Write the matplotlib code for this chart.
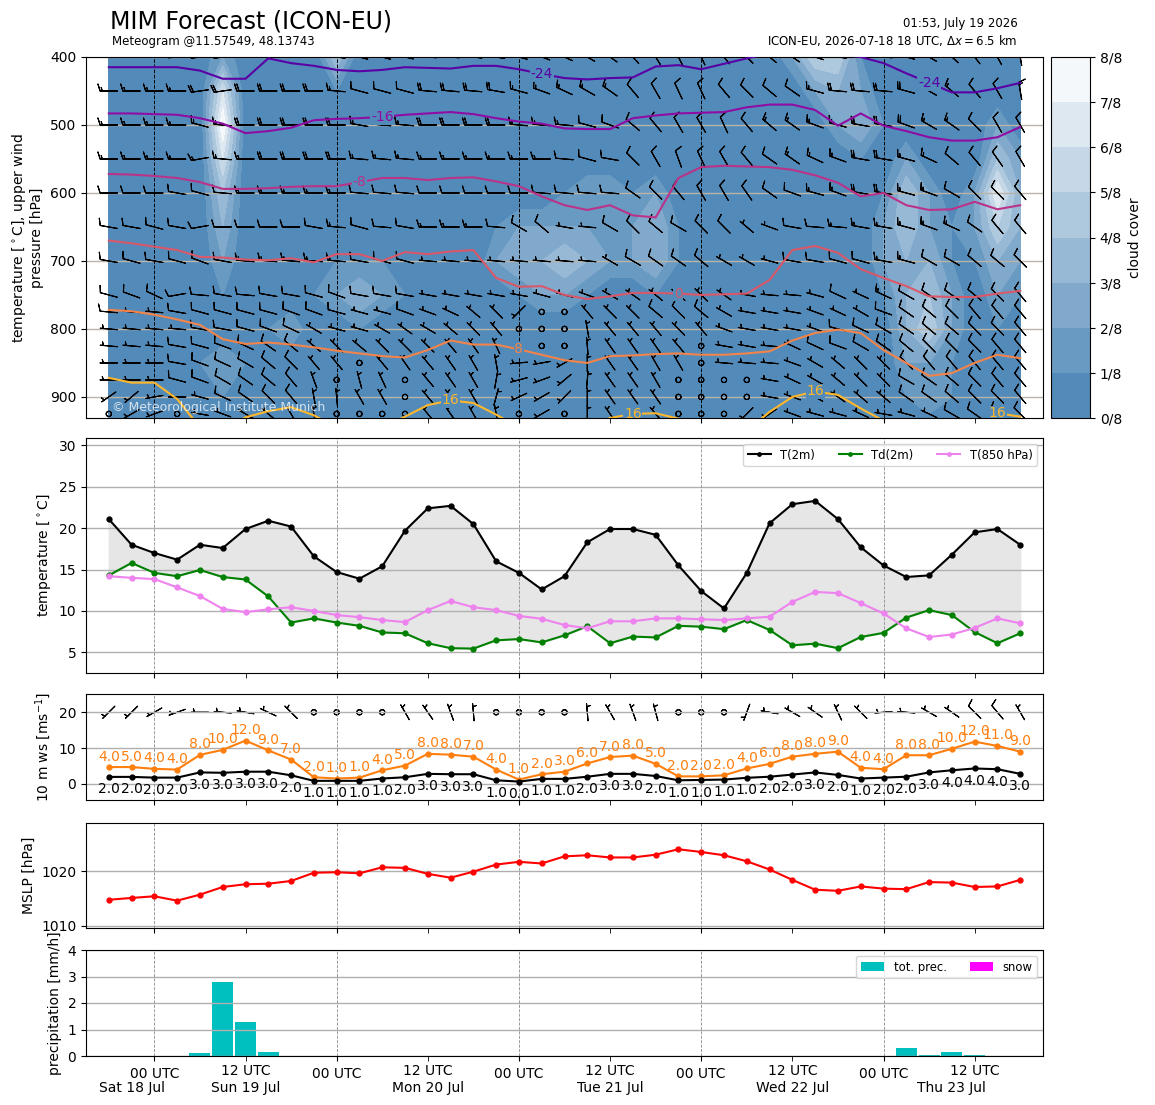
import datetime as dt
import numpy as np
import matplotlib
matplotlib.use('Agg')
import matplotlib.pyplot as plt
import matplotlib.dates as mdates
import matplotlib.transforms as mtransforms
from matplotlib.colors import LinearSegmentedColormap

# 3-hourly forecast steps, ICON-EU run 2026-07-18 18 UTC
t0 = dt.datetime(2026, 7, 18, 18)
times = [t0 + dt.timedelta(hours=3 * i) for i in range(41)]

# ---- surface series ----
t2m = [21.1, 18.0, 17.0, 16.2, 18.0, 17.6, 19.9, 20.9, 20.2, 16.6, 14.7, 13.9, 15.4, 19.7, 22.4,
       22.7, 20.5, 16.0, 14.6, 12.6, 14.2, 18.3, 19.9, 19.9, 19.2, 15.5, 12.4, 10.3, 14.6, 20.6,
       22.9, 23.3, 21.1, 17.7, 15.5, 14.1, 14.3, 16.8, 19.5, 19.9, 18.0]
td2m = [14.3, 15.8, 14.6, 14.2, 14.95, 14.1, 13.8, 11.75, 8.6, 9.1, 8.6, 8.2, 7.4, 7.3, 6.1,
        5.5, 5.45, 6.45, 6.6, 6.2, 7.05, 8.15, 6.1, 6.9, 6.8, 8.2, 8.1, 7.8, 8.9, 7.7,
        5.85, 6.05, 5.5, 6.85, 7.35, 9.2, 10.1, 9.5, 7.45, 6.1, 7.3]
t850 = [14.2, 14.0, 13.85, 12.85, 11.8, 10.25, 9.85, 10.2, 10.45, 10.0, 9.5, 9.25, 8.9, 8.65, 10.1,
        11.2, 10.45, 10.1, 9.4, 9.05, 8.3, 7.9, 8.75, 8.75, 9.1, 9.1, 9.0, 8.9, 9.1, 9.3,
        11.1, 12.3, 12.15, 10.95, 9.7, 7.9, 6.85, 7.15, 7.95, 9.1, 8.5]

ws10 = [1.95, 1.95, 1.75, 1.75, 3.2, 3.1, 3.4, 3.4, 2.4, 0.85, 0.85, 0.85, 1.5, 1.85, 2.8,
        2.7, 2.7, 1.0, 0.65, 1.4, 1.4, 2.0, 2.8, 2.8, 2.2, 1.0, 1.1, 1.2, 1.7, 2.0,
        2.6, 3.2, 2.5, 1.5, 1.75, 2.0, 3.2, 3.8, 4.3, 4.1, 2.8]
ws10_lab = [2, 2, 2, 2, 3, 3, 3, 3, 2, 1, 1, 1, 1, 2, 3, 3, 3, 1, 0, 1, 1, 2, 3, 3, 2, 1, 1, 1, 1, 2,
            2, 3, 2, 1, 2, 2, 3, 4, 4, 4, 3]
gust = [4.7, 4.7, 4.2, 4.0, 8.1, 9.5, 12.1, 9.35, 6.8, 1.85, 1.5, 1.75, 3.8, 5.1, 8.4,
        8.15, 7.6, 4.0, 1.2, 2.7, 3.4, 5.7, 7.5, 7.9, 5.6, 2.1, 2.1, 2.4, 4.3, 5.6,
        7.6, 8.4, 9.0, 4.5, 4.1, 8.0, 8.0, 9.8, 11.8, 10.6, 9.0]
gust_lab = [4, 5, 4, 4, 8, 10, 12, 9, 7, 2, 1, 1, 4, 5, 8, 8, 7, 4, 1, 2, 3, 6, 7, 8, 5, 2, 2, 2, 4, 6,
            8, 8, 9, 4, 4, 8, 8, 10, 12, 11, 9]
dir10 = [225, 225, 240, 250, 270, 275, 280, 295, 315, 0, 0, 0, 0, 330, 325, 340, 355, 0, 0, 0, 0,
         355, 330, 340, 345, 0, 0, 0, 200, 280, 300, 305, 335, 315, 265, 275, 300, 305, 315, 320, 330]
spd10 = [5, 5, 5, 5, 5, 5, 5, 5, 5, 0, 0, 0, 0, 5, 5, 5, 5, 0, 0, 0, 0, 5, 5, 5, 5, 0, 0, 0,
         5, 5, 5, 5, 5, 5, 5, 5, 5, 5, 10, 10, 5]

mslp = [1014.76, 1015.1, 1015.4, 1014.6, 1015.7, 1017.1, 1017.6, 1017.7, 1018.2, 1019.7, 1019.8,
        1019.6, 1020.7, 1020.6, 1019.5, 1018.8, 1019.9, 1021.2, 1021.7, 1021.4, 1022.7, 1022.9,
        1022.5, 1022.5, 1023.0, 1024.0, 1023.5, 1022.9, 1021.8, 1020.3, 1018.4, 1016.6, 1016.4,
        1017.2, 1016.8, 1016.7, 1018.0, 1017.9, 1017.1, 1017.2, 1018.4]

prec = [0, 0, 0, 0, 0.1, 2.8, 1.27, 0.15, 0, 0, 0, 0, 0, 0, 0, 0, 0, 0, 0, 0, 0, 0, 0, 0, 0, 0,
        0, 0, 0, 0, 0, 0, 0, 0, 0, 0.3, 0.03, 0.15, 0.03, 0, 0]
snow = [0, 0, 0, 0, 0, 0, 0, 0, 0, 0, 0, 0, 0, 0, 0, 0, 0, 0, 0, 0, 0, 0, 0, 0, 0, 0,
        0, 0, 0, 0, 0, 0, 0, 0, 0, 0, 0, 0, 0, 0, 0]

# ---- upper air: cloud cover in octas, one string per pressure level ----
cloud_lev = [400, 450, 500, 550, 600, 650, 700, 750, 800, 850, 900, 950]
cloud_rows = [
    "0000020000 4000000000 0000000000 2551000000 0",
    "0000060000 1000000000 0000000000 0232000000 0",
    "0000080000 0000000000 0000000000 0023100002 0",
    "0000060000 0000000000 0000000000 0001020004 2",
    "0000040000 0000000000 1221200000 0000142027 3",
    "0000030000 0000000122 2222310000 0000242125 3",
    "0001020000 1110000233 4322310000 0000233113 2",
    "0000010001 2321001012 2100100000 0000134202 1",
    "0000001120 0100000000 0000100000 0000035201 0",
    "0000121000 0000000000 0000000000 0000022100 0",
    "0000110000 0000000000 0000000000 0000012100 0",
    "0000000000 0000000000 0000000000 0000000000 0",
]

# isotherms: pressure [hPa] of each temperature line at every step (>931 is below ground)
iso_m24 = [415, 415, 415, 415, 420, 432, 432, 402, 409, 413, 419, 421, 419, 415, 416, 417, 413, 413,
           418, 425, 431, 433, 431, 430, 414, 412, 418, 410, 402, 395, 392, 393, 396, 400, 409, 424,
           438, 452, 452, 446, 438]
iso_m16 = [483, 483, 484, 485, 490, 498, 512, 509, 504, 493, 491, 490, 488, 485, 483, 481, 484, 490,
           495, 498, 505, 506, 506, 490, 486, 483, 482, 481, 474, 470, 470, 478, 501, 483, 501, 509,
           518, 523, 523, 518, 503]
iso_m8 = [572, 573, 575, 578, 584, 594, 594, 593, 591, 590, 590, 584, 578, 578, 581, 578, 577, 583,
          590, 605, 618, 625, 618, 633, 636, 578, 562, 560, 561, 562, 566, 574, 585, 605, 600, 618,
          625, 624, 613, 624, 618]
iso_0 = [670, 674, 679, 684, 694, 695, 698, 699, 696, 702, 690, 690, 700, 687, 690, 686, 684, 725,
         738, 737, 750, 756, 752, 747, 747, 748, 750, 749, 748, 728, 684, 678, 688, 712, 725, 737,
         752, 753, 753, 748, 744]
iso_8 = [772, 774, 779, 786, 794, 815, 822, 820, 823, 827, 832, 836, 840, 842, 831, 817, 823, 823,
         830, 838, 846, 850, 840, 839, 837, 836, 838, 838, 836, 833, 817, 806, 801, 806, 831, 850,
         869, 865, 850, 838, 843]
iso_16 = [872, 879, 879, 903, 945, 950, 930, 921, 915, 927, 945, 950, 945, 929, 912, 905, 909, 926,
          945, 950, 950, 945, 931, 925, 924, 932, 945, 950, 950, 922, 900, 892, 897, 917, 935, 950,
          950, 950, 945, 924, 929]
isotherms = [(-24, iso_m24, [19, 36], 0.16), (-16, iso_m16, [12], 0.30), (-8, iso_m8, [11], 0.43),
             (0, iso_0, [25], 0.56), (8, iso_8, [18], 0.70), (16, iso_16, [15, 23, 31, 39], 0.84)]

# upper wind: direction [deg] and speed [kt] per level
wind_lev = [400, 450, 500, 550, 600, 650, 700, 750, 775, 800, 825, 850, 875, 900, 925]
wind_dir = [
    [270, 270, 270, 265, 262, 262, 268, 270, 270, 272, 278, 285, 285, 283, 275, 275, 277, 280, 285, 290, 295, 300, 305, 318, 328, 333, 335, 322, 315, 310, 305, 288, 278, 275, 275, 285, 300, 312, 322, 332, 350],
    [270, 270, 270, 270, 262, 262, 270, 270, 270, 270, 275, 285, 285, 285, 275, 275, 275, 280, 285, 290, 295, 300, 305, 320, 330, 335, 335, 320, 315, 310, 305, 285, 275, 275, 275, 285, 300, 310, 320, 330, 350],
    [270, 270, 270, 270, 285, 275, 270, 270, 270, 270, 270, 280, 275, 275, 270, 270, 270, 270, 275, 275, 275, 285, 290, 310, 320, 330, 330, 335, 320, 310, 305, 290, 285, 280, 280, 290, 300, 305, 315, 330, 330],
    [270, 270, 270, 270, 260, 275, 270, 270, 270, 270, 270, 275, 275, 275, 270, 270, 270, 270, 270, 270, 275, 285, 280, 315, 330, 340, 335, 330, 320, 305, 305, 295, 290, 280, 280, 285, 295, 310, 320, 325, 330],
    [270, 270, 270, 280, 285, 275, 270, 270, 270, 270, 270, 275, 275, 275, 270, 270, 270, 270, 270, 275, 275, 275, 275, 305, 315, 320, 330, 330, 325, 305, 290, 285, 290, 280, 280, 285, 290, 300, 315, 315, 320],
    [280, 280, 285, 280, 260, 270, 270, 270, 270, 280, 275, 285, 275, 280, 270, 270, 270, 275, 300, 310, 280, 275, 300, 315, 310, 300, 315, 315, 310, 290, 280, 275, 275, 280, 280, 285, 290, 295, 305, 320, 320],
    [280, 285, 280, 285, 290, 280, 275, 275, 275, 275, 275, 280, 285, 285, 275, 275, 275, 275, 275, 275, 275, 275, 300, 300, 305, 305, 310, 300, 300, 285, 280, 280, 285, 285, 280, 285, 300, 300, 310, 310, 315],
    [285, 290, 295, 260, 275, 280, 275, 280, 280, 285, 290, 280, 280, 280, 280, 280, 280, 280, 280, 285, 285, 290, 300, 305, 310, 310, 315, 305, 280, 275, 275, 285, 295, 295, 295, 300, 305, 305, 310, 315, 320],
    [275, 275, 275, 280, 285, 285, 285, 285, 290, 290, 285, 285, 285, 290, 290, 295, 310, 315, 225, 0, 0, 320, 315, 315, 310, 315, 310, 300, 280, 280, 280, 290, 295, 300, 290, 305, 310, 315, 320, 320, 320],
    [275, 275, 275, 275, 280, 280, 285, 290, 295, 300, 285, 285, 300, 305, 300, 310, 315, 320, 0, 0, 0, 350, 320, 320, 320, 315, 320, 290, 280, 280, 280, 290, 285, 295, 300, 305, 310, 310, 315, 315, 320],
    [275, 275, 275, 280, 285, 290, 295, 305, 310, 310, 315, 310, 315, 315, 315, 320, 325, 335, 0, 0, 0, 355, 325, 325, 325, 320, 0, 280, 280, 275, 295, 295, 290, 300, 305, 310, 315, 315, 315, 320, 320],
    [270, 270, 270, 280, 290, 295, 300, 310, 315, 320, 320, 0, 320, 325, 320, 325, 330, 350, 265, 260, 240, 0, 325, 325, 330, 330, 0, 275, 275, 275, 290, 300, 310, 315, 315, 315, 320, 320, 320, 320, 320],
    [270, 270, 270, 285, 290, 300, 305, 310, 320, 340, 0, 345, 335, 0, 320, 325, 330, 10, 255, 250, 230, 5, 325, 325, 330, 0, 0, 0, 0, 280, 295, 300, 310, 315, 315, 300, 305, 310, 315, 320, 320],
    [235, 230, 260, 270, 285, 295, 305, 315, 320, 350, 355, 330, 330, 0, 320, 325, 330, 15, 245, 240, 225, 0, 325, 325, 325, 0, 0, 0, 0, 280, 290, 300, 305, 310, 310, 305, 305, 310, 315, 315, 320],
    [0, 240, 250, 0, 280, 290, 300, 310, 330, 350, 0, 0, 0, 0, 320, 325, 330, 350, 0, 240, 0, 0, 325, 320, 320, 0, 0, 0, 225, 235, 290, 285, 285, 295, 280, 285, 295, 300, 305, 310, 315],
]
wind_spd = [
    [15, 15, 15, 15, 20, 20, 20, 20, 20, 20, 15, 15, 15, 15, 20, 20, 20, 20, 15, 15, 15, 15, 15, 10, 10, 10, 10, 10, 10, 10, 15, 15, 20, 20, 20, 20, 20, 15, 15, 10, 15],
    [15, 15, 15, 15, 20, 20, 20, 20, 20, 20, 15, 10, 10, 10, 20, 20, 20, 20, 15, 15, 15, 15, 15, 10, 10, 10, 10, 10, 10, 10, 10, 15, 20, 20, 20, 20, 20, 15, 10, 10, 15],
    [15, 15, 15, 15, 15, 15, 20, 20, 20, 20, 20, 15, 15, 15, 20, 20, 20, 20, 15, 15, 15, 10, 10, 10, 10, 10, 10, 10, 10, 15, 15, 15, 15, 20, 20, 20, 15, 15, 10, 10, 10],
    [15, 15, 15, 15, 15, 15, 15, 20, 20, 20, 20, 15, 15, 15, 15, 15, 15, 15, 15, 15, 10, 10, 10, 10, 10, 10, 10, 10, 10, 10, 15, 15, 15, 20, 20, 15, 15, 10, 10, 10, 10],
    [10, 10, 10, 10, 10, 10, 15, 15, 15, 15, 15, 10, 10, 10, 10, 10, 10, 10, 10, 10, 10, 10, 10, 10, 10, 10, 10, 10, 10, 10, 10, 15, 15, 20, 20, 15, 15, 10, 10, 10, 10],
    [10, 10, 10, 10, 10, 10, 10, 10, 10, 10, 15, 10, 10, 10, 15, 15, 15, 10, 10, 10, 5, 5, 10, 10, 10, 10, 10, 10, 5, 5, 10, 10, 15, 15, 15, 15, 15, 15, 10, 10, 10],
    [10, 10, 10, 10, 10, 10, 15, 15, 15, 15, 15, 10, 10, 10, 5, 5, 5, 5, 5, 5, 5, 5, 5, 10, 10, 10, 10, 5, 5, 5, 10, 10, 10, 10, 15, 15, 10, 10, 10, 10, 10],
    [10, 10, 10, 10, 10, 10, 10, 10, 10, 10, 10, 10, 10, 10, 5, 5, 5, 5, 5, 5, 5, 5, 5, 5, 5, 5, 5, 5, 5, 5, 5, 5, 10, 5, 15, 10, 10, 10, 10, 10, 10],
    [10, 5, 5, 10, 10, 10, 10, 10, 10, 10, 10, 5, 5, 10, 5, 5, 5, 5, 5, 0, 0, 5, 5, 5, 10, 10, 10, 5, 5, 5, 5, 5, 5, 5, 10, 10, 10, 10, 10, 10, 10],
    [5, 5, 5, 5, 10, 10, 10, 10, 10, 5, 5, 5, 5, 5, 5, 5, 5, 5, 0, 0, 0, 5, 5, 5, 5, 5, 5, 5, 5, 5, 5, 5, 10, 10, 10, 10, 10, 10, 10, 10, 10],
    [5, 5, 5, 10, 10, 10, 10, 10, 10, 5, 5, 5, 5, 5, 5, 5, 5, 5, 0, 0, 0, 5, 5, 5, 5, 5, 0, 5, 5, 5, 5, 10, 10, 10, 10, 10, 10, 10, 10, 10, 10],
    [5, 5, 5, 10, 10, 10, 10, 10, 10, 5, 5, 0, 5, 5, 5, 5, 5, 5, 5, 5, 5, 5, 5, 5, 5, 5, 0, 5, 5, 5, 5, 5, 5, 5, 5, 10, 10, 10, 10, 10, 10],
    [5, 5, 5, 10, 10, 10, 10, 10, 10, 5, 0, 5, 5, 0, 5, 5, 5, 5, 5, 5, 5, 5, 5, 5, 5, 0, 0, 0, 0, 5, 5, 5, 5, 5, 5, 10, 10, 10, 10, 10, 10],
    [5, 5, 5, 5, 5, 10, 10, 10, 10, 5, 5, 5, 5, 0, 5, 5, 5, 5, 5, 5, 5, 5, 5, 5, 5, 0, 0, 0, 0, 5, 5, 5, 5, 5, 5, 10, 10, 10, 10, 10, 10],
    [0, 5, 5, 0, 5, 5, 5, 5, 5, 5, 0, 0, 0, 0, 5, 5, 5, 5, 0, 5, 0, 5, 5, 5, 5, 0, 0, 0, 5, 5, 5, 5, 5, 5, 5, 5, 5, 10, 10, 10, 10],
]


def to_uv(dirs, spds):
    d = np.deg2rad(np.asarray(dirs, dtype=float))
    s = np.asarray(spds, dtype=float)
    return -s * np.sin(d), -s * np.cos(d)


x = mdates.date2num(times)
xlim = (mdates.date2num(t0 - dt.timedelta(hours=3)),
        mdates.date2num(times[-1] + dt.timedelta(hours=3)))
midnights = [t for t in times if t.hour == 0]

W, H = 1155, 1105
fig = plt.figure(figsize=(W / 100, H / 100), dpi=100)


def box(l, t, r, b):
    return [l / W, 1 - b / H, (r - l) / W, (b - t) / H]


ax1 = fig.add_axes(box(86, 57, 1043, 418))
cax = fig.add_axes(box(1051, 57, 1090, 418))
ax2 = fig.add_axes(box(86, 438, 1043, 673))
ax3 = fig.add_axes(box(86, 694, 1043, 800))
ax4 = fig.add_axes(box(86, 823, 1043, 928))
ax5 = fig.add_axes(box(86, 950, 1043, 1056))
axes = [ax1, ax2, ax3, ax4, ax5]

# ---- panel 1: cloud cover, isotherms, upper wind ----
cmap = LinearSegmentedColormap.from_list('cc', ['steelblue', 'white'])
cc = np.array([[int(c) for c in row.replace(' ', '')] for row in cloud_rows]) / 8.0
clev = np.arange(9) / 8.0
cf = ax1.contourf(x, cloud_lev, cc, levels=clev, cmap=cmap)
base_col = cmap(1 / 16)

for T, pr, lab_idx, frac in isotherms:
    col = plt.cm.plasma(frac)
    ax1.plot(x, pr, color=col, lw=1.5, zorder=3)
    for k in lab_idx:
        ax1.text(x[k], pr[k], '%d' % T, color=col, fontsize=10, ha='center', va='center',
                 zorder=4, clip_on=True,
                 bbox=dict(boxstyle='square,pad=0.05', fc=base_col, ec='none'))

XX, YY = np.meshgrid(x, wind_lev)
uu, vv = to_uv(wind_dir, wind_spd)
ax1.barbs(XX, YY, uu, vv, length=5, pivot='middle', lw=0.8, color='k', zorder=2)

ax1.set_ylim(931, 400)
ax1.set_yticks([400, 500, 600, 700, 800, 900])
ax1.yaxis.grid(True, color='#b9b3a8', lw=1)
ax1.set_ylabel('temperature [$^\\circ$C], upper wind\npressure [hPa]')
ax1.text(0.027, 0.012, '\u00a9 Meteorological Institute Munich', transform=ax1.transAxes,
         color='white', alpha=0.75, fontsize=9, va='bottom', zorder=5)
for t in midnights:
    ax1.axvline(mdates.date2num(t), color='k', ls='--', lw=0.7, zorder=2.5)

cb = fig.colorbar(cf, cax=cax, ticks=clev)
cb.ax.set_yticklabels(['%d/8' % k for k in range(9)])
cb.set_label('cloud cover')

# ---- panel 2: temperatures ----
ax2.fill_between(x, t2m, td2m, color='0.9', zorder=1)
ax2.plot(x, t2m, 'o-', color='k', ms=3.5, lw=1.5, label='T(2m)')
ax2.plot(x, td2m, 'o-', color='green', ms=3.5, lw=1.5, label='Td(2m)')
ax2.plot(x, t850, 'o-', color='violet', ms=3.5, lw=1.5, label='T(850 hPa)')
ax2.set_ylim(2.5, 30.9)
ax2.set_yticks([5, 10, 15, 20, 25, 30])
ax2.set_ylabel('temperature [$^\\circ$C]')
ax2.legend(loc='upper right', ncol=3, fontsize=8.4, markerscale=0.7)

# ---- panel 3: 10 m wind ----
ax3.plot(x, gust, 'o-', color='tab:orange', ms=3.5, lw=1.5)
ax3.plot(x, ws10, 'o-', color='k', ms=3.5, lw=1.5)
for xi, g, gl in zip(x, gust, gust_lab):
    ax3.annotate('%.1f' % gl, (xi, g), xytext=(0, 2.5), textcoords='offset points',
                 ha='center', va='bottom', color='tab:orange', fontsize=10)
for xi, w, wl in zip(x, ws10, ws10_lab):
    ax3.annotate('%.1f' % wl, (xi, w), xytext=(0, -4), textcoords='offset points',
                 ha='center', va='top', color='k', fontsize=10)
u10, v10 = to_uv(dir10, spd10)
ax3.barbs(x, np.full(len(x), 20.0), u10, v10, length=5, pivot='middle', lw=0.8, color='k')
ax3.set_ylim(-4.5, 25.1)
ax3.set_yticks([0, 10, 20])
ax3.set_ylabel('10 m ws [ms$^{-1}$]')

# ---- panel 4: MSLP ----
ax4.plot(x, mslp, 'o-', color='red', ms=3.5, lw=1.5)
ax4.set_ylim(1009.6, 1028.8)
ax4.set_yticks([1010, 1020])
ax4.set_ylabel('MSLP [hPa]')

# ---- panel 5: precipitation ----
ax5.bar(x, prec, width=0.115, color='c', label='tot. prec.')
ax5.bar(x, snow, width=0.115, color='magenta', label='snow')
ax5.set_ylim(0, 4)
ax5.set_yticks([0, 1, 2, 3, 4])
ax5.set_ylabel('precipitation [mm/h]')
ax5.legend(loc='upper right', ncol=2, fontsize=8.4)

for ax in axes[1:]:
    ax.yaxis.grid(True, color='#b0b0b0', lw=1)
    for t in midnights:
        ax.axvline(mdates.date2num(t), color='#8c8c8c', ls='--', lw=0.6, zorder=1.6)

for ax in axes:
    ax.set_xlim(xlim)
    ax.xaxis.set_major_locator(mdates.HourLocator(byhour=[0]))
    ax.xaxis.set_minor_locator(mdates.HourLocator(byhour=[12]))
    ax.xaxis.set_major_formatter(mdates.DateFormatter('%H UTC'))
    ax.xaxis.set_minor_formatter(mdates.DateFormatter('%H UTC'))
    ax.tick_params(axis='x', which='both', length=3.5)
    ax.tick_params(axis='x', which='major', pad=4.3)
    ax.tick_params(axis='x', which='minor', pad=2.3)
    if ax is not ax5:
        ax.tick_params(axis='x', which='both', labelbottom=False)

# day labels centred on each day's part of the forecast
trans = mtransforms.blended_transform_factory(ax5.transData, ax5.transAxes)
days = sorted({t.date() for t in times})
for d in days:
    start = max(dt.datetime(d.year, d.month, d.day), times[0])
    end = min(dt.datetime(d.year, d.month, d.day) + dt.timedelta(days=1), times[-1])
    mid = start + (end - start) / 2
    if end > start:
        ax5.text(mdates.date2num(mid), -0.30, mid.strftime('%a %d %b'), transform=trans,
                 ha='center', va='center', fontsize=10)

fig.text(110 / W, 1 - 22 / H, 'MIM Forecast (ICON-EU)', fontsize=17, va='center')
fig.text(112 / W, 1 - 42 / H, 'Meteogram @11.57549, 48.13743', fontsize=8.5, va='center')
fig.text(1018 / W, 1 - 23 / H, '01:53, July 19 2026', fontsize=8.5, va='center', ha='right')
fig.text(1018 / W, 1 - 41 / H, 'ICON-EU, 2026-07-18 18 UTC, $\\Delta x = 6.5$ km',
         fontsize=8.5, va='center', ha='right')

fig.savefig('out.png', dpi=100)
